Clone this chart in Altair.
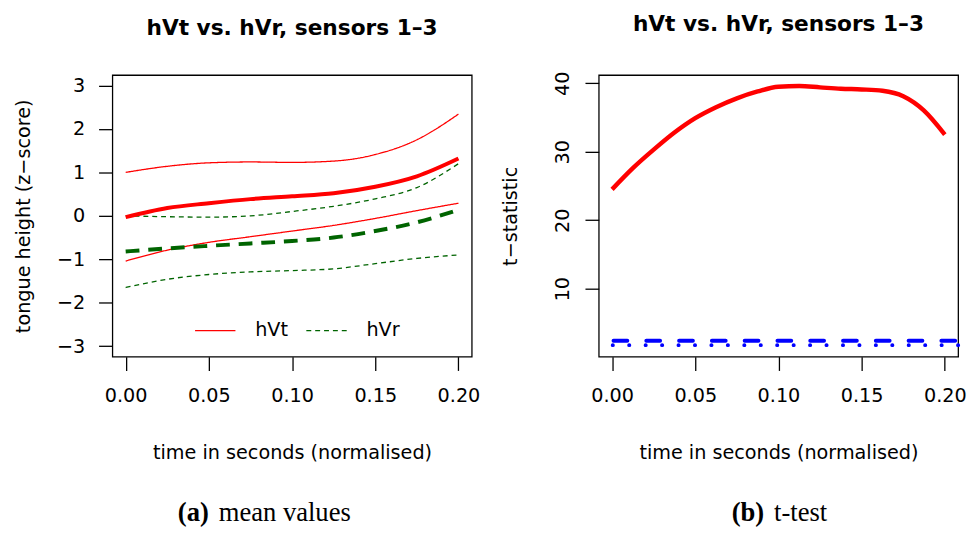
import altair as alt
import pandas as pd

# ---------------- data ----------------
time_a = [0.0, 0.025, 0.05, 0.075, 0.1, 0.125, 0.15, 0.175, 0.2]
hvt_mean = [-0.03, 0.18, 0.29, 0.385, 0.45, 0.52, 0.67, 0.91, 1.32]
hvt_upper = [1.00, 1.14, 1.22, 1.24, 1.23, 1.26, 1.41, 1.75, 2.34]
hvt_lower = [-1.04, -0.79, -0.61, -0.48, -0.35, -0.22, -0.06, 0.12, 0.29]
hvr_mean = [-0.82, -0.75, -0.69, -0.635, -0.58, -0.50, -0.35, -0.15, 0.14]
hvr_upper = [0.00, -0.02, -0.03, 0.00, 0.10, 0.22, 0.39, 0.65, 1.20]
hvr_lower = [-1.65, -1.46, -1.35, -1.29, -1.26, -1.22, -1.10, -0.98, -0.90]

time_b = [0.0, 0.0125, 0.025, 0.0375, 0.05, 0.0625, 0.075, 0.0875, 0.1,
          0.1125, 0.125, 0.1375, 0.15, 0.1625, 0.175, 0.1875, 0.2]
t_stat = [24.5, 27.6, 30.3, 32.8, 34.9, 36.5, 37.8, 38.8, 39.5,
          39.6, 39.4, 39.2, 39.1, 38.9, 38.1, 36.0, 32.5]
crit_dashed = [2.4]
crit_dotted = [1.75]

groups = ["hVt", "hVr"]
x_ticks = [0.0, 0.05, 0.1, 0.15, 0.2]
ya_ticks = [-3, -2, -1, 0, 1, 2, 3]
yb_ticks = [10, 20, 30, 40]
title_text = "hVt vs. hVr, sensors 1\u20133"
caption_a = ["(a)", "mean values"]
caption_b = ["(b)", "t-test"]

RED = "#FF0000"
GREEN = "#006400"
BLUE = "#0000FF"
SANS = "DejaVu Sans"
SERIF = "Liberation Serif"
W, H = 365, 286

# ---------------- tables ----------------
bands = []
for g, up, lo in [("hVt", hvt_upper, hvt_lower), ("hVr", hvr_upper, hvr_lower)]:
    for t, v in zip(time_a, up):
        bands.append({"t": t, "value": v, "group": g, "series": g + "_up"})
    for t, v in zip(time_a, lo):
        bands.append({"t": t, "value": v, "group": g, "series": g + "_lo"})
bands_df = pd.DataFrame(bands)
mean_t_df = pd.DataFrame({"t": time_a, "value": hvt_mean})
mean_r_df = pd.DataFrame({"t": time_a, "value": hvr_mean})
tstat_df = pd.DataFrame({"t": time_b, "value": t_stat})
dashed_df = pd.DataFrame({"value": crit_dashed})
dotted_df = pd.DataFrame({"value": crit_dotted})

x_scale = alt.Scale(domain=[-0.008, 0.208], nice=False, zero=False)
x_axis = alt.Axis(values=x_ticks, format=".2f", title="time in seconds (normalised)",
                  labelPadding=17, labelBaseline="top", titleY=88, titleBaseline="top")
ya_scale = alt.Scale(domain=[-3.24, 3.24], nice=False, zero=False)
ya_axis = alt.Axis(values=ya_ticks, format="d", title="tongue height (z\u2212score)",
                   labelAngle=0, labelAlign="right", labelBaseline="middle", labelPadding=14,
                   titleX=-84, titleY=H / 2, titleAngle=270, titleAlign="center",
                   titleBaseline="alphabetic")
yb_scale = alt.Scale(domain=[0.07, 41.2], nice=False, zero=False)
yb_axis = alt.Axis(values=yb_ticks, format="d", title="t\u2212statistic",
                   labelAngle=270, labelAlign="center", labelBaseline="alphabetic",
                   labelPadding=17,
                   titleX=-84, titleY=H / 2, titleAngle=270, titleAlign="center",
                   titleBaseline="alphabetic")

legend = alt.Legend(orient="none", legendX=83, legendY=238, direction="horizontal",
                    title=None, symbolType="stroke", symbolSize=1681,
                    symbolStrokeWidth=1.3, labelFont=SANS, labelFontSize=19.5,
                    labelColor="black", labelOffset=19, columnPadding=15, padding=0)

panel_title = alt.TitleParams(title_text, font=SANS, fontSize=22, fontWeight="bold",
                              color="black", offset=19, baseline="alphabetic",
                              anchor="middle", frame="group")


def caption_layer(words, x_left_end, x_right_start):
    df = pd.DataFrame({"txt": words})
    bold = alt.Chart(df).transform_filter(alt.datum.txt == words[0]).mark_text(
        font=SERIF, fontSize=27, fontWeight="bold", align="right",
        baseline="alphabetic", color="black"
    ).encode(text="txt:N", x=alt.value(x_left_end), y=alt.value(453))
    rest = alt.Chart(df).transform_filter(alt.datum.txt == words[1]).mark_text(
        font=SERIF, fontSize=27, align="left", baseline="alphabetic", color="black"
    ).encode(text="txt:N", x=alt.value(x_right_start), y=alt.value(453))
    return [bold, rest]


XA = alt.X("t:Q", scale=x_scale, axis=x_axis)
YA = alt.Y("value:Q", scale=ya_scale, axis=ya_axis)
YB = alt.Y("value:Q", scale=yb_scale, axis=yb_axis)

band_layer = alt.Chart(bands_df).mark_line(strokeWidth=1.3, interpolate="monotone").encode(
    x=XA, y=YA,
    color=alt.Color("group:N", scale=alt.Scale(domain=groups, range=[RED, GREEN]), legend=legend),
    strokeDash=alt.StrokeDash("group:N", scale=alt.Scale(domain=groups, range=[[1, 0], [5, 4]]),
                              legend=legend),
    detail="series:N",
)
mean_t_layer = alt.Chart(mean_t_df).mark_line(
    color=RED, strokeWidth=4, interpolate="monotone").encode(x=XA, y=YA)
mean_r_layer = alt.Chart(mean_r_df).mark_line(
    color=GREEN, strokeWidth=4, strokeDash=[14, 9], interpolate="monotone").encode(x=XA, y=YA)

panel_a = alt.layer(band_layer, mean_t_layer, mean_r_layer,
                    *caption_layer(caption_a, 98, 108)).properties(
    width=W, height=H, title=panel_title)

t_layer = alt.Chart(tstat_df).mark_line(
    color=RED, strokeWidth=4.5, interpolate="monotone").encode(x=XA, y=YB)
dash_layer = alt.Chart(dashed_df).mark_rule(
    color=BLUE, strokeWidth=4, strokeDash=[14, 19.3], strokeCap="round", strokeDashOffset=-3
).encode(y=YB)
dot_layer = alt.Chart(dotted_df).mark_rule(
    color=BLUE, strokeWidth=4, strokeDash=[0.1, 16.6], strokeCap="round"
).encode(y=YB)

panel_b = alt.layer(t_layer, dash_layer, dot_layer,
                    *caption_layer(caption_b, 168, 178)).properties(
    width=W, height=H, title=panel_title)

chart = alt.hconcat(panel_a, panel_b, spacing=129, bounds="flush").properties(
    padding={"left": 5, "top": 0, "right": 0, "bottom": 0}, background="white"
).configure_view(
    stroke="black", strokeWidth=1.3
).configure_axis(
    domain=False, grid=False, ticks=True, tickSize=14, tickWidth=1.3, tickColor="black",
    labelFont=SANS, labelFontSize=19.5, labelColor="black",
    titleFont=SANS, titleFontSize=19.5, titleFontWeight="normal", titleColor="black",
)

chart.save("out.html", embed_options={"renderer": "svg", "actions": False})
